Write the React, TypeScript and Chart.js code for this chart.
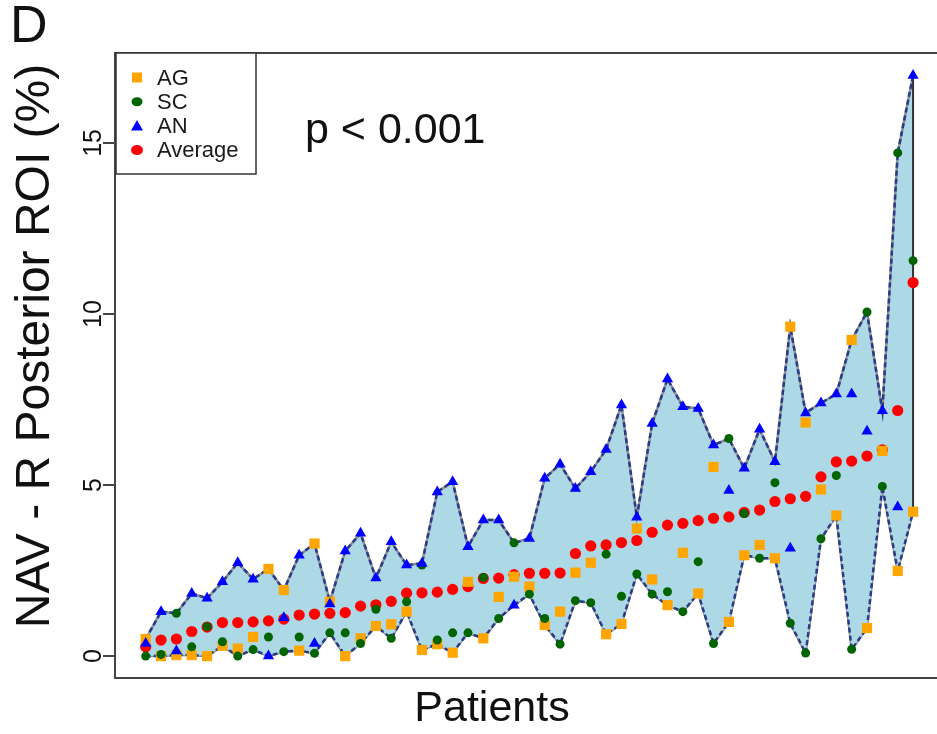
import React, { useEffect, useRef } from 'react';
import { Chart, registerables } from 'chart.js';

Chart.register(...registerables);

const FONT = '"Liberation Sans", Arial, Helvetica, sans-serif';

// Patient index (x position), 51 patients
const PATIENTS = Array.from({ length: 51 }, (_, i) => i);

const AG = [0.5, 0.0, 0.03, 0.03, 0.0, 0.3, 0.22, 0.56, 2.55, 1.93, 0.16, 3.29, 1.59, 0.0, 0.52, 0.88, 0.93, 1.3, 0.18, 0.35, 0.1, 2.17, 0.52, 1.73, 2.32, 2.03, 0.91, 1.3, 2.44, 2.73, 0.64, 0.94, 3.73, 2.24, 1.49, 3.02, 1.83, 5.53, 1.0, 2.95, 3.25, 2.86, 9.63, 6.83, 4.87, 4.11, 9.24, 0.82, 6.0, 2.49, 4.22];
const SC = [0.0, 0.05, 1.25, 0.27, 0.86, 0.42, 0.0, 0.19, 0.56, 0.13, 0.56, 0.08, 0.68, 0.68, 0.37, 1.37, 0.52, 1.59, 2.66, 0.47, 0.68, 0.68, 2.3, 1.1, 3.31, 1.81, 1.1, 0.35, 1.62, 1.56, 2.98, 1.75, 2.4, 1.81, 1.88, 1.3, 2.76, 0.37, 6.36, 4.17, 2.86, 5.07, 0.96, 0.09, 3.43, 5.28, 0.2, 10.06, 4.96, 14.71, 11.56];
const AN = [0.37, 1.3, 0.15, 1.83, 1.69, 2.17, 2.73, 2.25, 0.0, 1.12, 2.95, 0.37, 1.52, 3.07, 3.59, 2.28, 3.34, 2.66, 2.71, 4.8, 5.1, 3.2, 3.98, 3.98, 1.49, 3.44, 5.2, 5.61, 4.9, 5.39, 6.04, 7.34, 4.06, 6.8, 8.1, 7.29, 7.24, 6.17, 4.84, 5.49, 6.63, 5.68, 3.15, 7.11, 7.4, 7.66, 7.66, 6.57, 7.17, 4.36, 16.97];
const AVERAGE = [0.27, 0.47, 0.5, 0.72, 0.85, 0.98, 0.98, 1.0, 1.03, 1.08, 1.2, 1.23, 1.25, 1.27, 1.46, 1.5, 1.6, 1.84, 1.85, 1.87, 1.95, 2.03, 2.27, 2.28, 2.38, 2.42, 2.42, 2.43, 3.0, 3.22, 3.25, 3.32, 3.38, 3.62, 3.83, 3.88, 3.96, 4.03, 4.07, 4.2, 4.27, 4.52, 4.6, 4.67, 5.24, 5.68, 5.7, 5.85, 6.03, 7.18, 10.92];

const Y_TICKS = [0, 5, 10, 15];
const LEGEND_LABELS = ['AG', 'SC', 'AN', 'Average'];
const PANEL_LABEL = 'D';
const P_TEXT = 'p < 0.001';
const X_TITLE = 'Patients';
const Y_TITLE = 'NAV - R Posterior ROI (%)';

const COLORS = { AG: '#FFA500', SC: '#006400', AN: '#0000FF', Average: '#FF0000' };

const pts = (arr: number[]) => arr.map((v, i) => ({ x: PATIENTS[i], y: v }));

function drawMarker(ctx: CanvasRenderingContext2D, kind: string, x: number, y: number) {
  ctx.fillStyle = (COLORS as any)[kind];
  ctx.beginPath();
  if (kind === 'AG') {
    ctx.rect(x - 5, y - 5, 10, 10);
  } else if (kind === 'AN') {
    ctx.moveTo(x, y - 6);
    ctx.lineTo(x + 6, y + 4.5);
    ctx.lineTo(x - 6, y + 4.5);
    ctx.closePath();
  } else if (kind === 'SC') {
    ctx.ellipse(x, y, 5.5, 4.5, 0, 0, Math.PI * 2);
  } else {
    ctx.ellipse(x, y, 6, 5, 0, 0, Math.PI * 2);
  }
  ctx.fill();
}

const overlayPlugin = {
  id: 'overlay',
  afterDraw(chart: any) {
    const { ctx, chartArea } = chart;
    ctx.save();
    // top frame line
    ctx.strokeStyle = '#444';
    ctx.lineWidth = 2;
    ctx.beginPath();
    ctx.moveTo(chartArea.left, chartArea.top);
    ctx.lineTo(chart.width, chartArea.top);
    ctx.stroke();

    // legend box
    const lx = chartArea.left + 1;
    const ly = chartArea.top;
    const lw = 140;
    const lh = 121;
    ctx.fillStyle = '#fff';
    ctx.fillRect(lx, ly, lw, lh);
    ctx.strokeStyle = '#333';
    ctx.lineWidth = 1.5;
    ctx.strokeRect(lx, ly, lw, lh);
    LEGEND_LABELS.forEach((lab, k) => {
      const cy = ly + 24.5 + k * 24.2;
      drawMarker(ctx, lab, lx + 21, cy);
      ctx.fillStyle = '#1a1a1a';
      ctx.font = `22px ${FONT}`;
      ctx.textAlign = 'left';
      ctx.textBaseline = 'middle';
      ctx.fillText(lab, lx + 41, cy + 1);
    });

    // p-value annotation
    ctx.fillStyle = '#111';
    ctx.font = `43px ${FONT}`;
    ctx.textAlign = 'left';
    ctx.textBaseline = 'alphabetic';
    ctx.fillText(P_TEXT, 305, 143);

    // panel label
    ctx.font = `52px ${FONT}`;
    ctx.fillText(PANEL_LABEL, 10, 42);

    // x axis title
    ctx.font = `43px ${FONT}`;
    ctx.textAlign = 'center';
    ctx.fillText(X_TITLE, 492, 721);

    // y axis title
    ctx.translate(36, 346);
    ctx.rotate(-Math.PI / 2);
    ctx.font = `48px ${FONT}`;
    ctx.textAlign = 'center';
    ctx.textBaseline = 'middle';
    ctx.fillText(Y_TITLE, 0, 0);
    ctx.restore();
  },
};

export default function App() {
  const ref = useRef<HTMLCanvasElement | null>(null);

  useEffect(() => {
    if (!ref.current) return;
    const upper = AG.map((v, i) => Math.max(v, SC[i], AN[i]));
    const lower = AG.map((v, i) => Math.min(v, SC[i], AN[i]));
    const last = PATIENTS.length - 1;

    const marker = (label: string, data: number[], style: string, radius: number, order: number) => ({
      label,
      data: pts(data),
      showLine: false,
      pointStyle: style,
      pointRadius: radius,
      pointHoverRadius: radius,
      pointBackgroundColor: (COLORS as any)[label],
      pointBorderWidth: 0,
      borderWidth: 0,
      fill: false,
      order,
    });

    const chart = new Chart(ref.current, {
      type: 'line',
      data: {
        datasets: [
          marker('AN', AN, 'triangle', 6.5, 1),
          marker('SC', SC, 'circle', 4.5, 2),
          marker('AG', AG, 'rect', 7.2, 3),
          marker('Average', AVERAGE, 'circle', 5.6, 4),
          {
            label: 'upperDash', data: pts(upper), borderColor: '#2b3a86', borderWidth: 2.5,
            borderDash: [5, 3], pointRadius: 0, fill: false, order: 5, tension: 0,
          },
          {
            label: 'lowerDash', data: pts(lower), borderColor: '#2b3a86', borderWidth: 2.5,
            borderDash: [5, 3], pointRadius: 0, fill: false, order: 6, tension: 0,
          },
          {
            label: 'edge',
            data: [{ x: PATIENTS[last], y: upper[last] }, { x: PATIENTS[last], y: lower[last] }],
            borderColor: '#333', borderWidth: 2, pointRadius: 0, fill: false, order: 7,
          },
          {
            label: 'envUpper', data: pts(upper), borderColor: '#8a909c', borderWidth: 2.5,
            pointRadius: 0, fill: '+1', backgroundColor: '#ADD8E6', order: 8, tension: 0,
          },
          {
            label: 'envLower', data: pts(lower), borderColor: '#8a909c', borderWidth: 2.5,
            pointRadius: 0, fill: false, order: 9, tension: 0,
          },
        ] as any,
      },
      options: {
        animation: false,
        responsive: false,
        maintainAspectRatio: false,
        layout: { autoPadding: false, padding: { top: 53, left: 0, right: 0, bottom: 0 } },
        plugins: {
          legend: { display: false },
          tooltip: { enabled: false },
        },
        scales: {
          x: {
            type: 'linear',
            min: -2,
            max: 51.56,
            ticks: { display: false },
            grid: { display: false, drawTicks: false },
            border: { display: true, color: '#444', width: 2 },
            title: { display: false, text: X_TITLE },
            afterFit: (s: any) => { s.height = 56; },
          },
          y: {
            type: 'linear',
            min: -0.64,
            max: 17.63,
            afterBuildTicks: (s: any) => { s.ticks = Y_TICKS.map((v) => ({ value: v })); },
            ticks: {
              color: '#111', font: { family: FONT, size: 25 },
              minRotation: 90, maxRotation: 90, crossAlign: 'center', padding: -5,
            },
            grid: {
              display: true, drawOnChartArea: false, drawTicks: true, tickLength: 12,
              color: '#444', lineWidth: 2,
            },
            border: { display: true, color: '#444', width: 2 },
            title: { display: false, text: Y_TITLE },
            afterFit: (s: any) => { s.width = 115; },
          },
        },
      } as any,
      plugins: [overlayPlugin],
    });
    return () => chart.destroy();
  }, []);

  return (
    <div style={{ position: 'fixed', left: 0, top: 0, width: 937, height: 734, background: '#fff' }}>
      <canvas ref={ref} width={937} height={734} style={{ display: 'block' }} />
    </div>
  );
}
